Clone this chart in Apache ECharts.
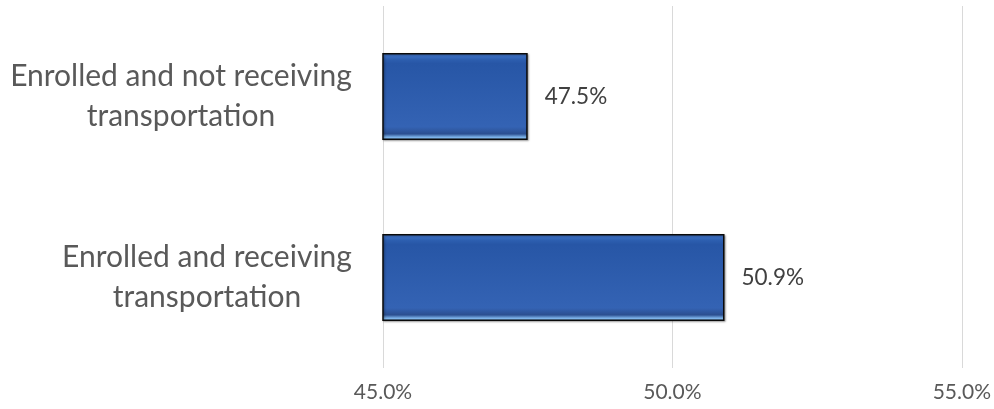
<!DOCTYPE html>
<html>
<head>
<meta charset="utf-8">
<script src="https://cdn.jsdelivr.net/npm/echarts@6/dist/echarts.min.js"></script>
<style>html,body{margin:0;padding:0;background:#fff;}#c{width:994px;height:409px;}</style>
</head>
<body>
<div id="c"></div>
<script>
const categories = ['Enrolled and not receiving transportation', 'Enrolled and receiving transportation'];
const labelLines = [['Enrolled and not receiving', 'transportation'], ['Enrolled and receiving', 'transportation']];
const values = [47.5, 50.9];
const axisMin = 45, axisMax = 55, axisStep = 5;

const family = 'Lato, "Open Sans", sans-serif';
const ctx = document.createElement('canvas').getContext('2d');
function measure(text, size) { ctx.font = size + 'px ' + family; return ctx.measureText(text).width; }
// font sizes matched to the text widths seen in the reference
const catSize = Math.round(100 * 344 / measure(labelLines[0][0], 100) * 2) / 2;
const tickSize = Math.round(100 * 58 / measure('45.0%', 100) * 2) / 2;
const valSize = Math.round(100 * 62 / measure('47.5%', 100) * 2) / 2;

const rich = {};
labelLines.forEach((lines, i) => {
  const w = Math.max(...lines.map(l => measure(l, catSize)));
  rich['l' + i] = { width: Math.ceil(w), align: 'center', fontSize: catSize, fontFamily: family,
    color: '#595959', lineHeight: 40 };
});

const chart = echarts.init(document.getElementById('c'));
chart.setOption({
  animation: false,
  grid: { left: 383, right: 29, top: 6, bottom: 41, containLabel: false },
  xAxis: {
    type: 'value', min: axisMin, max: axisMax, interval: axisStep,
    axisLine: { show: false }, axisTick: { show: false },
    splitLine: { lineStyle: { color: '#d9d9d9', width: 1 } },
    axisLabel: { color: '#595959', fontSize: tickSize, fontFamily: family, margin: 14,
      formatter: v => v.toFixed(1) + '%' }
  },
  yAxis: {
    type: 'category', inverse: true, data: categories,
    axisLine: { show: false }, axisTick: { show: false },
    axisLabel: { margin: 31, align: 'right', rich: rich,
      formatter: (v, i) => labelLines[i].map(l => '{l' + i + '|' + l + '}').join('\n') }
  },
  series: [{
    type: 'bar', data: values, barCategoryGap: '52%',
    itemStyle: {
      color: new echarts.graphic.LinearGradient(0, 0, 0, 1, [
        { offset: 0, color: '#4a82dc' },
        { offset: 0.07, color: '#2d5fb0' },
        { offset: 0.12, color: '#2756a6' },
        { offset: 0.85, color: '#3463b4' },
        { offset: 0.93, color: '#2b4f90' },
        { offset: 0.97, color: '#7fb6ec' },
        { offset: 1, color: '#7fb6ec' }
      ]),
      borderColor: '#0a0a0a', borderWidth: 1.5,
      shadowColor: 'rgba(0,0,0,0.35)', shadowOffsetX: 1, shadowOffsetY: 1, shadowBlur: 2
    },
    label: { show: true, position: 'right', distance: 17, color: '#404040',
      fontSize: valSize, fontFamily: family, formatter: p => p.value.toFixed(1) + '%' }
  }]
});
</script>
</body>
</html>
